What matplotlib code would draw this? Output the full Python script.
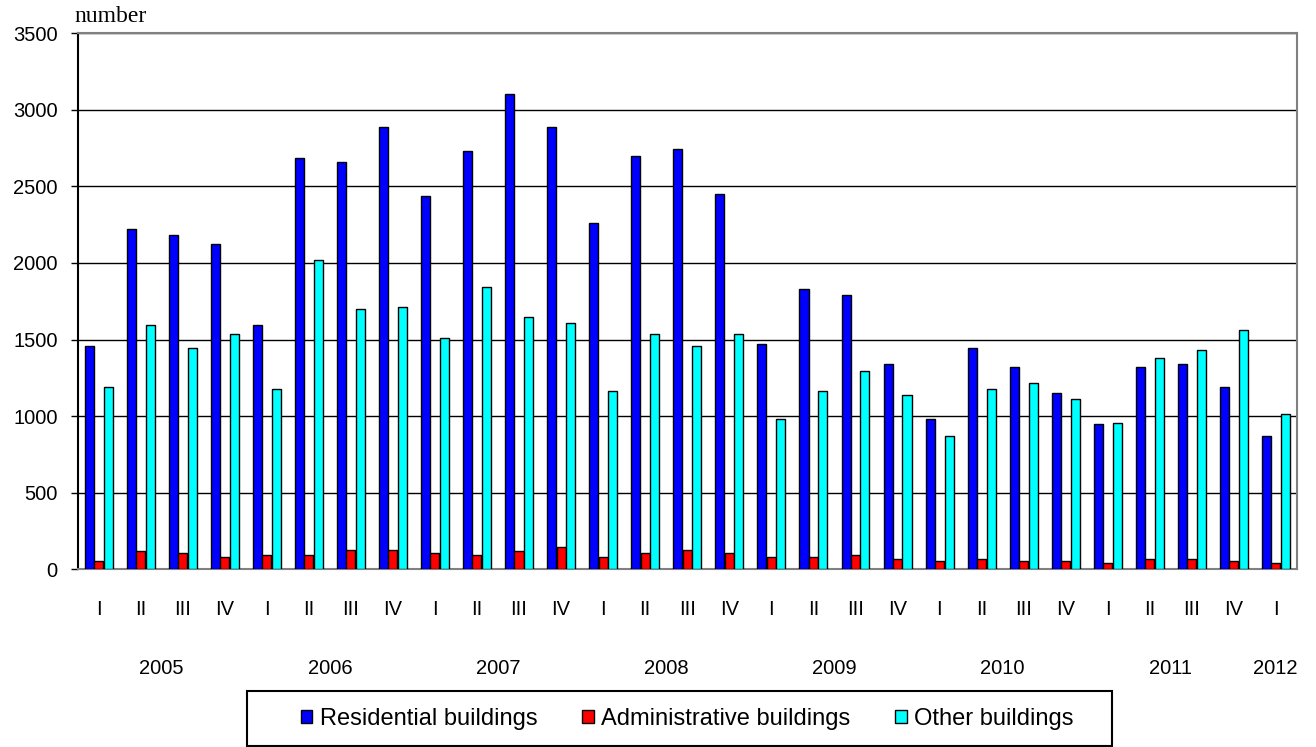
import numpy as np
import matplotlib
matplotlib.use('Agg')
import matplotlib.pyplot as plt
import matplotlib.transforms as mtransforms
from matplotlib.patches import Rectangle

quarters = ['I', 'II', 'III', 'IV'] * 7 + ['I']
years = ['2005', '2006', '2007', '2008', '2009', '2010', '2011', '2012']
year_quarters = [4, 4, 4, 4, 4, 4, 4, 1]

residential = [1455, 2222, 2184, 2122, 1598, 2683, 2656, 2886, 2439, 2731,
               3105, 2886, 2262, 2696, 2746, 2451, 1470, 1827, 1790, 1343,
               983, 1445, 1318, 1153, 946, 1318, 1343, 1191, 871]
administrative = [55, 117, 107, 77, 92, 92, 127, 127, 107, 92,
                  117, 142, 77, 107, 127, 107, 77, 77, 92, 65,
                  55, 65, 55, 55, 40, 65, 65, 55, 40]
other = [1188, 1595, 1445, 1533, 1176, 2017, 1697, 1712, 1508, 1842,
         1647, 1610, 1161, 1533, 1455, 1533, 983, 1161, 1293, 1138,
         871, 1176, 1216, 1113, 958, 1380, 1433, 1560, 1011]

series_names = ['Residential buildings', 'Administrative buildings', 'Other buildings']
colors = ['#0000FF', '#FF0000', '#00FFFF']

plt.rcParams['font.family'] = ['Liberation Sans', 'DejaVu Sans']
W, H = 1316, 747

fig = plt.figure(figsize=(W / 100, H / 100), dpi=100)
ax = fig.add_axes([0.059, 0.238, 0.9263, 0.7175])

x = np.arange(len(quarters))
w = 0.215
offsets = [-0.22, 0.0, 0.23]
bars = []
for vals, off, col, name in zip([residential, administrative, other], offsets, colors, series_names):
    b = ax.bar(x + off, vals, width=w, color=col, edgecolor='black', linewidth=1.0,
               label=name, zorder=3)
    bars.append(b)

ax.set_xlim(-0.5, len(quarters) - 0.5)
ax.set_ylim(0, 3500)
ax.set_yticks(np.arange(0, 3501, 500))
ax.yaxis.grid(True, color='black', linewidth=1.0, zorder=0)
ax.set_axisbelow(True)

ax.set_xticks(x)
ax.set_xticklabels(quarters, fontsize=14.5)
ax.tick_params(axis='x', length=0, pad=22)
ax.tick_params(axis='y', labelsize=14.5, length=5, width=1, direction='out', pad=9.5)

ax.spines['left'].set_color('black')
ax.spines['left'].set_linewidth(1.5)
for s in ['top', 'right', 'bottom']:
    ax.spines[s].set_color('#808080')
    ax.spines[s].set_linewidth(1.5)

# year labels under the quarters
trans = mtransforms.blended_transform_factory(ax.transData, fig.transFigure)
start = 0
for yr, n in zip(years, year_quarters):
    cx = start + (n - 1) / 2.0
    ax.text(cx, 1 - 668 / H, yr, transform=trans, ha='center', va='center', fontsize=14.5)
    start += n

fig.text(74 / W, 1 - 17 / H, 'number', family='Liberation Serif', fontsize=17,
         ha='left', va='center')

# legend box drawn separately, entries centred inside it
fig.patches.append(Rectangle((247 / W, 1 - 746 / H), 865 / W, 55 / H,
                             transform=fig.transFigure, facecolor='white',
                             edgecolor='black', linewidth=1.5, zorder=1))
leg = fig.legend(handles=bars, labels=series_names, ncol=3, loc='center',
                 bbox_to_anchor=(687 / W, 1 - 719 / H),
                 fontsize=17, frameon=False, borderaxespad=0,
                 handlelength=0.5, handleheight=0.5, handletextpad=0.3,
                 columnspacing=1.9)
leg.set_zorder(2)

fig.savefig('out.png', dpi=100)
